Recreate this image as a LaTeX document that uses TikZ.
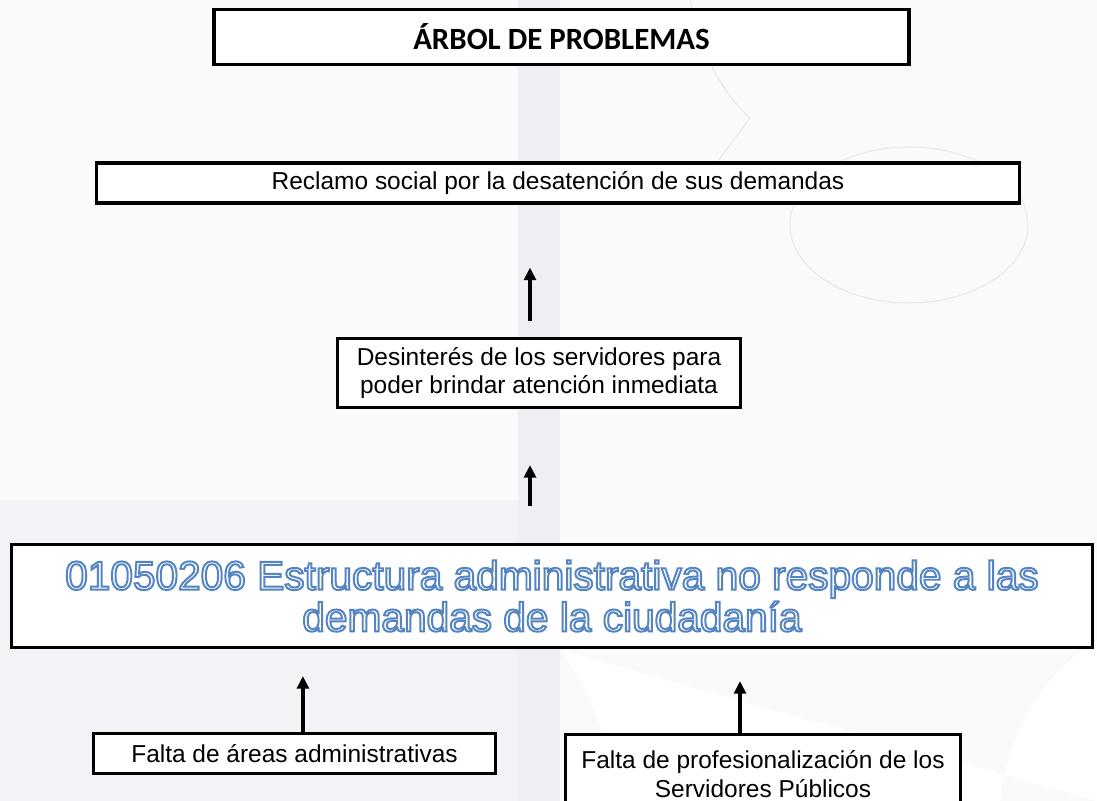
\documentclass[tikz,border=0pt]{standalone}
\usepackage{fontspec}
\setmainfont{Liberation Sans}
\newfontfamily\titlefont{Carlito}
\usetikzlibrary{arrows.meta}

\definecolor{fondo}{HTML}{FAFAFA}
\definecolor{marca}{HTML}{F3F3F7}
\definecolor{banda}{HTML}{EFEEF2}
\definecolor{trazo}{HTML}{EAEAEA}

\newcommand{\contorno}[1]{\special{pdf:literal direct q 2 Tr 1.4 w 0.33 0.52 0.76 RG 1 g}#1\special{pdf:literal direct Q}}

\begin{document}
\begin{tikzpicture}[x=0.025cm, y=-0.025cm,
    caja/.style={draw, line width=2.2pt, fill=white, inner sep=0pt, align=center,
                 font=\fontsize{17.4}{20.5}\selectfont},
    flecha/.style={-{Triangle[length=9pt, width=8.5pt]}, line width=2.3pt}
]

\useasboundingbox (0,0) rectangle (1097,801);
\fill[fondo] (0,0) rectangle (1097,801);
\fill[marca] (0,500) rectangle (525,801);
\fill[banda] (518,0) rectangle (560,801);
\fill[white] (560,650) .. controls (600,700) and (610,760) .. (615,801) -- (1000,801)
    .. controls (1010,720) and (1050,670) .. (1097,640) -- (1097,801) -- cycle;
\draw[trazo, line width=0.8pt] (909,225) ellipse (119 and 78);
\draw[trazo, line width=0.8pt] (690,0) .. controls (700,60) and (730,100) .. (750,118) -- (700,185);

\node[caja, line width=2.8pt, minimum width=17.35cm, minimum height=1.375cm,
      font=\titlefont\bfseries\fontsize{22}{26}\selectfont] (titulo) at (561.5,37) {ÁRBOL DE PROBLEMAS};

\node[caja, minimum width=23.075cm, minimum height=1.0cm] (efecto) at (558,183)
    {Reclamo social por la desatención de sus demandas};

\node[caja, minimum width=10.075cm, minimum height=1.725cm] (consecuencia) at (539,373)
    {Desinterés de los servidores para\\poder brindar atención inmediata};

\node[caja, minimum width=27.025cm, minimum height=2.575cm,
      font=\fontsize{28.9}{29.6}\selectfont] (problema) at (552,596)
    {\contorno{01050206 Estructura administrativa no responde a las}\\
     \contorno{demandas de la ciudadanía}};

\node[caja, minimum width=10.05cm, minimum height=1.0cm] (causa1) at (294.5,753.5)
    {Falta de áreas administrativas};

\node[caja, minimum width=9.875cm, minimum height=1.975cm] (causa2) at (763,774)
    {Falta de profesionalización de los\\Servidores Públicos};

\draw[flecha, shorten <=0.4cm, shorten >=1.575cm]
    ([xshift=-0.225cm]consecuencia.north) -- ([xshift=-0.225cm]consecuencia.north |- efecto.south);
\draw[flecha, shorten <=0.925cm, shorten >=1.4cm]
    ([xshift=-0.55cm]problema.north) -- ([xshift=-0.55cm]problema.north |- consecuencia.south);
\draw[flecha, shorten >=0.675cm]
    ([xshift=0.21cm]causa1.north) -- ([xshift=0.21cm]causa1.north |- problema.south);
\draw[flecha, shorten >=0.8cm]
    ([xshift=-0.575cm]causa2.north) -- ([xshift=-0.575cm]causa2.north |- problema.south);

\end{tikzpicture}
\end{document}
